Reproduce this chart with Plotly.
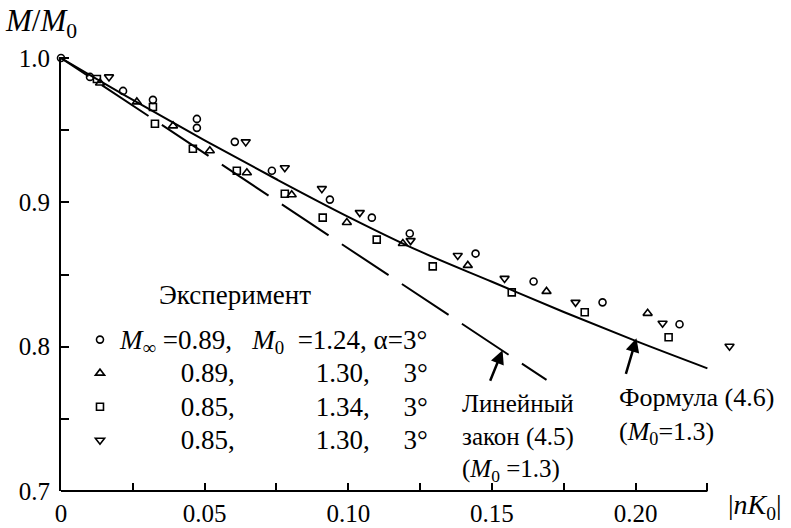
import plotly.graph_objects as go

# ---------------- data ----------------
x_tickvals = [0, 0.05, 0.10, 0.15, 0.20]
x_ticktext = ["0", "0.05", "0.10", "0.15", "0.20"]
x_minorvals = [0.025, 0.075, 0.125, 0.175, 0.225]
x_axis_end = 0.225
y_tickvals = [0.70, 0.80, 0.90, 1.00]
y_ticktext = ["0.7", "0.8", "0.9", "1.0"]
y_minorvals = [0.75, 0.85, 0.95]

# Formula (4.6), M0 = 1.3 (solid curve)
formula_x = [0.0, 0.025, 0.05, 0.075, 0.10, 0.125, 0.15, 0.175, 0.20, 0.225]
formula_y = [1.000, 0.971, 0.943, 0.916, 0.890, 0.866, 0.845, 0.824, 0.804, 0.785]

# Linear law (4.5), M0 = 1.3 (dashed line)
linear_x = [0.0, 0.169]
linear_y = [1.000, 0.777]

# Experiment: M_inf=0.89, M0=1.24, alpha=3 deg (circles)
circ_x = [0.000, 0.0101, 0.0216, 0.0320, 0.0473, 0.0473, 0.0605, 0.0734, 0.0936,
          0.1082, 0.1214, 0.1443, 0.1645, 0.1885, 0.2153]
circ_y = [1.000, 0.9869, 0.9772, 0.9710, 0.9578, 0.9516, 0.9419, 0.9219, 0.9019,
          0.8894, 0.8784, 0.8645, 0.8452, 0.8307, 0.8155]

# M_inf=0.89, M0=1.30 (triangles up)
tup_x = [0.0136, 0.0264, 0.0390, 0.0518, 0.0647, 0.0803, 0.0995, 0.1190, 0.1416,
         0.1690, 0.2042]
tup_y = [0.9827, 0.9696, 0.9530, 0.9357, 0.9205, 0.9053, 0.8860, 0.8715, 0.8563,
         0.8383, 0.8231]

# M_inf=0.85, M0=1.34 (squares)
sq_x = [0.0125, 0.0320, 0.0327, 0.0459, 0.0612, 0.0779, 0.0911, 0.1099, 0.1294,
        0.1569, 0.1823, 0.2115]
sq_y = [0.9855, 0.9661, 0.9544, 0.9371, 0.9219, 0.9060, 0.8894, 0.8742, 0.8556,
        0.8376, 0.8238, 0.8065]

# M_inf=0.85, M0=1.30 (triangles down)
tdn_x = [0.0167, 0.0643, 0.0779, 0.0908, 0.1040, 0.1217, 0.1381, 0.1544, 0.1791,
         0.2094, 0.2327]
tdn_y = [0.9869, 0.9419, 0.9240, 0.9095, 0.8929, 0.8735, 0.8632, 0.8473, 0.8307,
         0.8162, 0.8003]

N = "\u00a0"
legend_rows = [
    "<i>M</i><sub>∞</sub>" + N + "=0.89," + N * 3 + "<i>M</i><sub>0</sub>" + N * 2
    + "=1.24," + N + "α=3°",
    N * 9 + "0.89," + N * 12 + "1.30," + N * 5 + "3°",
    N * 9 + "0.85," + N * 12 + "1.34," + N * 5 + "3°",
    N * 9 + "0.85," + N * 12 + "1.30," + N * 5 + "3°",
]
legend_names = ['<span style="font-size:27px">' + r + "</span>" for r in legend_rows]

FONT = "Liberation Serif, Times New Roman, Times, serif"

fig = go.Figure()

fig.add_trace(go.Scatter(x=formula_x, y=formula_y, mode="lines", line_shape="spline",
                         line=dict(color="black", width=2), showlegend=False,
                         hoverinfo="skip"))
dash = "33px,16px" + ",56px,16px" * 9
fig.add_trace(go.Scatter(x=linear_x, y=linear_y, mode="lines",
                         line=dict(color="black", width=2, dash=dash),
                         showlegend=False, hoverinfo="skip"))

series = [
    (circ_x, circ_y, "circle-open", 7),
    (tup_x, tup_y, "triangle-up-open", 8),
    (sq_x, sq_y, "square-open", 7),
    (tdn_x, tdn_y, "triangle-down-open", 8),
]
for (xs, ys, sym, size), name in zip(series, legend_names):
    fig.add_trace(go.Scatter(x=xs, y=ys, mode="markers", name=name, cliponaxis=False,
                             marker=dict(symbol=sym, size=size, color="black",
                                         line=dict(color="black", width=1.6))))

annotations = [
    dict(xref="paper", yref="paper", x=-0.086, y=1.078, xanchor="left", yanchor="middle",
         text="<i>M</i>/<i>M</i><sub>0</sub>", showarrow=False, font=dict(size=31)),
    dict(xref="paper", yref="paper", x=1.024, y=-0.036, xanchor="center", yanchor="middle",
         text="|<i>nK</i><sub>0</sub>|", showarrow=False, font=dict(size=28)),
    dict(x=0.0334, y=0.8355, xanchor="left", yanchor="middle", text="Эксперимент",
         showarrow=False, font=dict(size=27)),
    dict(x=0.1388, y=0.7713, xanchor="left", yanchor="top", align="left",
         text="Линейный<br>закон (4.5)<br>(<i>M</i><sub>0</sub> =1.3)",
         showarrow=False, font=dict(size=25)),
    dict(x=0.1937, y=0.776, xanchor="left", yanchor="top", align="left",
         text="Формула (4.6)<br>(<i>M</i><sub>0</sub>=1.3)",
         showarrow=False, font=dict(size=26)),
    # arrows
    dict(x=0.1537, y=0.7975, ax=-13, ay=32, text="", showarrow=True, arrowhead=2,
         arrowsize=1.1, arrowwidth=2.5, arrowcolor="black"),
    dict(x=0.2003, y=0.8058, ax=-11, ay=37, text="", showarrow=True, arrowhead=2,
         arrowsize=1.1, arrowwidth=2.5, arrowcolor="black"),
]

fig.update_layout(
    width=791, height=528,
    margin=dict(l=61, r=52, t=57, b=37),
    paper_bgcolor="white", plot_bgcolor="white",
    font=dict(family=FONT, color="black", size=24),
    annotations=annotations,
    shapes=[dict(type="line", xref="x", yref="paper", x0=0, x1=x_axis_end, y0=0, y1=0,
                 line=dict(color="black", width=2))],
    legend=dict(x=0.028, y=0.399, xanchor="left", yanchor="top",
                bgcolor="rgba(0,0,0,0)", font=dict(family=FONT, size=23.5), itemwidth=30),
    xaxis=dict(range=[0, 0.236], tickmode="array", tickvals=x_tickvals,
               ticktext=x_ticktext, ticks="inside", ticklen=8, tickwidth=1.8,
               tickcolor="black", showline=False, automargin=False,
               minor=dict(tickmode="array", tickvals=x_minorvals, ticks="inside",
                          ticklen=8, tickwidth=1.8, tickcolor="black"),
               showgrid=False, zeroline=False,
               tickfont=dict(family=FONT, size=25), ticklabelstandoff=5),
    yaxis=dict(range=[0.7, 1.0007], tickmode="array", tickvals=y_tickvals,
               ticktext=y_ticktext, ticks="inside", ticklen=8, tickwidth=1.8,
               tickcolor="black", showline=True, linecolor="black", linewidth=2,
               automargin=False,
               minor=dict(tickmode="array", tickvals=y_minorvals, ticks="inside",
                          ticklen=8, tickwidth=1.8, tickcolor="black"),
               showgrid=False, zeroline=False,
               tickfont=dict(family=FONT, size=25), ticklabelstandoff=4),
)

fig.write_html("out.html")
